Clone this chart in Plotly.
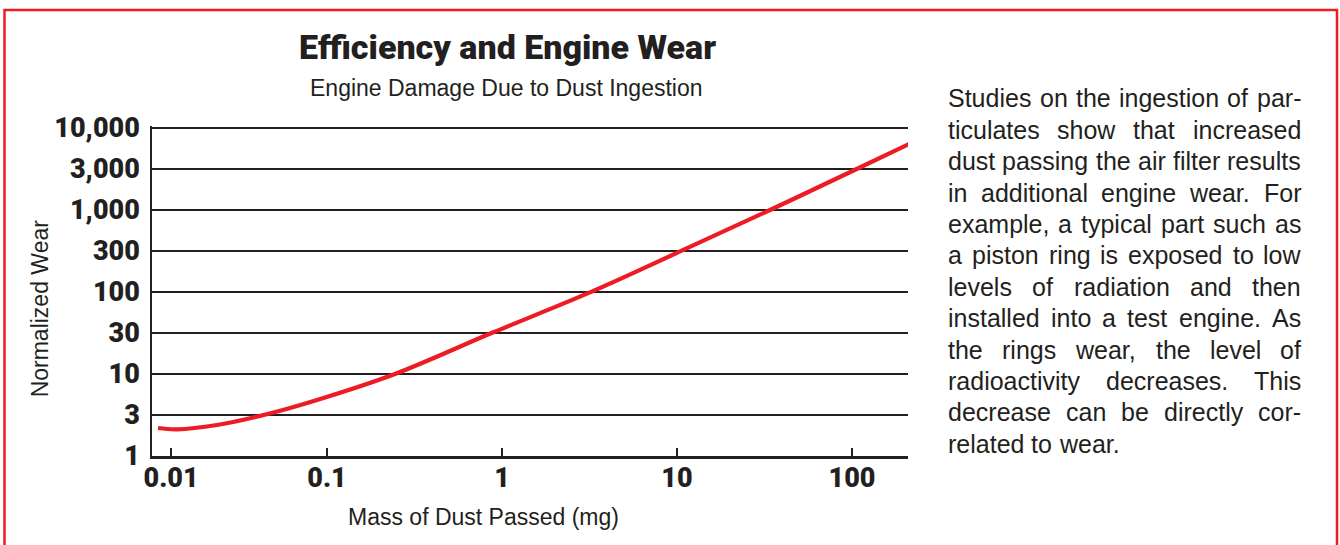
import plotly.graph_objects as go

# ---------------- data ----------------
mass_mg = [0.01082, 0.01389, 0.02352, 0.04521, 0.0877, 0.2446, 0.8919,
           3.254, 10.64, 34.0, 106.4, 219.4]
normalized_wear = [2.195, 2.116, 2.388, 3.225, 4.818, 10.0, 32.25,
                   100.9, 318.9, 1000.0, 3162.0, 6618.0]

y_tick_text = ["1", "3", "10", "30", "100", "300", "1,000", "3,000", "10,000"]
y_tick_vals = [10 ** (k / 2) for k in range(len(y_tick_text))]
x_tick_text = ["0.01", "0.1", "1", "10", "100", ""]
x_tick_vals = [0.01285, 0.1, 1, 10, 100, 208.9]

title_text = "Efficiency and Engine Wear"
subtitle_text = "Engine Damage Due to Dust Ingestion"
x_title = "Mass of Dust Passed (mg)"
y_title = "Normalized Wear"
paragraph_lines = [
    "Studies on the ingestion of par-",
    "ticulates show that increased",
    "dust passing the air filter results",
    "in additional engine wear. For",
    "example, a typical part such as",
    "a piston ring is exposed to low",
    "levels of radiation and then",
    "installed into a test engine. As",
    "the rings wear, the level of",
    "radioactivity decreases. This",
    "decrease can be directly cor-",
    "related to wear.",
]

# ---------------- layout constants ----------------
W, H = 1340, 545
PL, PR, PT, PB = 152, 908, 126, 456   # plot area in pixels
INK = "#231f20"
RED = "#ED1C24"
COND = "Roboto, Liberation Sans Narrow, sans-serif"
SANS = "Liberation Sans, Arial, Helvetica, sans-serif"


def px_x(p):
    return (p - PL) / (PR - PL)


def px_y(p):
    return (PB - p) / (PB - PT)


fig = go.Figure()
fig.add_trace(go.Scatter(
    x=mass_mg, y=normalized_wear, mode="lines",
    line=dict(color=RED, width=4.2, shape="spline", smoothing=1.0),
    hoverinfo="skip", cliponaxis=False,
))

annotations = []


def add_text(text, x, y, size, family=SANS, weight="normal", xanchor="center",
             textangle=0):
    annotations.append(dict(
        text=text, x=px_x(x), y=px_y(y), xref="paper", yref="paper",
        showarrow=False, xanchor=xanchor, yanchor="middle", textangle=textangle,
        font=dict(family=family, size=size, color=INK, weight=weight),
    ))


add_text(title_text, 507.5, 59 - 0.345 * 34, 34, family=COND, weight=900)
add_text(subtitle_text, 506.5, 96 - 0.345 * 23, 23)
add_text(x_title, 483.5, 525 - 0.345 * 23, 23)
add_text(y_title, 48.3 - 0.345 * 23, 308, 23, textangle=-90)

# justified paragraph (Liberation Sans = Arial metrics)
ARIAL = {
    "a": 556, "b": 556, "c": 500, "d": 556, "e": 556, "f": 278, "g": 556,
    "h": 556, "i": 222, "j": 222, "k": 500, "l": 222, "m": 833, "n": 556,
    "o": 556, "p": 556, "q": 556, "r": 333, "s": 500, "t": 278, "u": 556,
    "v": 500, "w": 722, "x": 500, "y": 500, "z": 500, "A": 667, "F": 611,
    "S": 667, "T": 611, " ": 278, ",": 278, ".": 278, "-": 333,
}
PSIZE = 25
P_LEFT, P_RIGHT = 947, 1300
P_BASE0, P_STEP = 107, 31.4


def word_w(w):
    return sum(ARIAL.get(c, 556) for c in w) / 1000 * PSIZE


for i, line in enumerate(paragraph_lines):
    words = line.split(" ")
    base = P_BASE0 + i * P_STEP
    yc = base - 0.345 * PSIZE
    widths = [word_w(w) for w in words]
    if i < len(paragraph_lines) - 1 and len(words) > 1:
        gap = (P_RIGHT - P_LEFT - sum(widths)) / (len(words) - 1)
    else:
        gap = ARIAL[" "] / 1000 * PSIZE
    xpos = P_LEFT
    for w, ww in zip(words, widths):
        annotations.append(dict(
            text=w, x=px_x(xpos), y=px_y(yc), xref="paper", yref="paper",
            showarrow=False, xanchor="left", yanchor="middle", borderpad=0,
            font=dict(family=SANS, size=PSIZE, color=INK),
        ))
        xpos += ww + gap

shapes = [dict(
    type="rect", xref="paper", yref="paper",
    x0=px_x(4.5), x1=px_x(1337), y0=px_y(10), y1=px_y(580),
    line=dict(color=RED, width=2.5), fillcolor="rgba(0,0,0,0)", layer="above",
)]

fig.update_layout(
    width=W, height=H,
    margin=dict(l=PL, r=W - PR, t=PT, b=H - PB, pad=0),
    paper_bgcolor="white", plot_bgcolor="white",
    showlegend=False,
    annotations=annotations, shapes=shapes,
    xaxis=dict(
        type="log", range=[-2.0, 2.32],
        tickvals=x_tick_vals, ticktext=x_tick_text,
        ticks="inside", ticklen=8, tickwidth=1.5, tickcolor=INK,
        showgrid=False, zeroline=False,
        showline=True, linecolor=INK, linewidth=2.5,
        tickfont=dict(family=COND, size=27, color=INK, weight=900),
        ticklabelstandoff=-4,
    ),
    yaxis=dict(
        type="log", range=[0, 4 + 2 / 82],
        tickvals=y_tick_vals, ticktext=y_tick_text,
        ticks="", showgrid=True, gridcolor=INK, gridwidth=1.5,
        zeroline=False, showline=True, linecolor=INK, linewidth=1.5,
        tickfont=dict(family=COND, size=27, color=INK, weight=900),
        ticklabelstandoff=5,
    ),
)

fig.write_html("out.html", config={"displayModeBar": False},
               post_script="document.body.style.margin='0px';")
